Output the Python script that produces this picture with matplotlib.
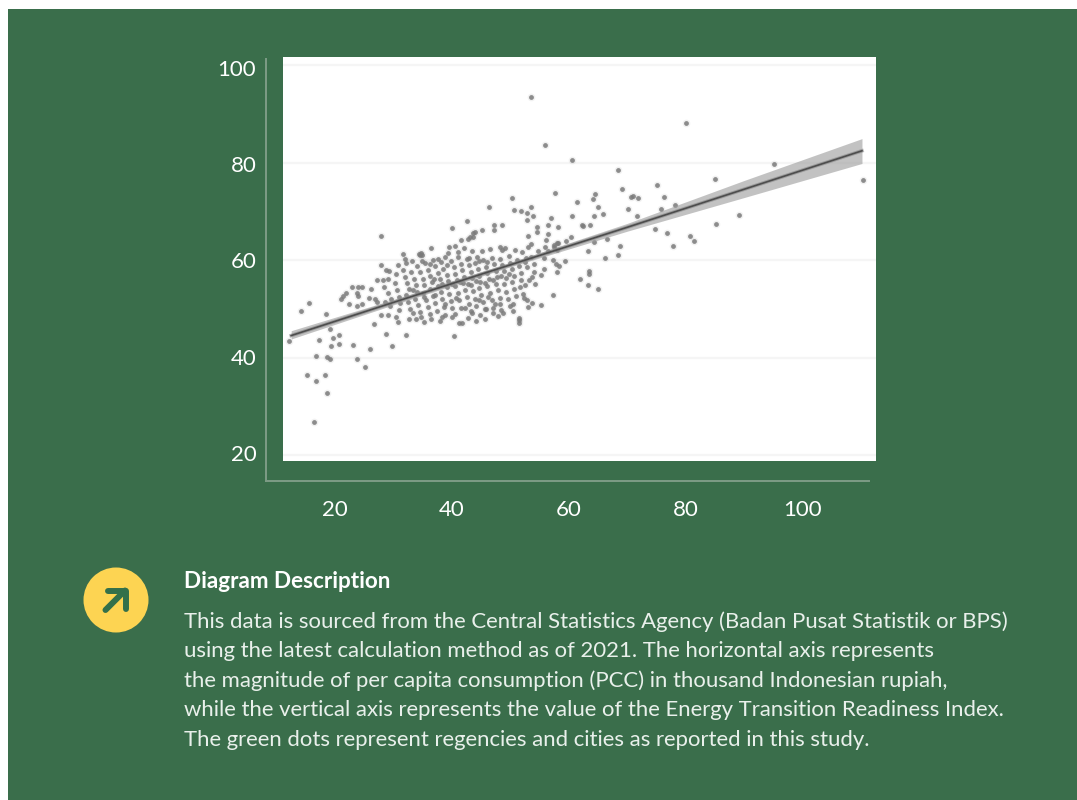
"""Energy Transition Readiness Index vs per capita consumption, with description panel."""

import numpy as np
import matplotlib.pyplot as plt
from matplotlib.patches import Circle, Rectangle

W, H = 1077, 800

PANEL_GREEN = "#3a6e4b"
SPINE_GREEN = "#7d9c86"
ICON_YELLOW = "#fdd452"
ICON_GREEN = "#33704a"
BODY_TEXT = "#e9f0eb"

x_ticks = [20, 40, 60, 80, 100]
y_ticks = [20, 40, 60, 80, 100]

# points as (pcc, index)
low_points = [
    (15.6, 51.3), (14.1, 49.6), (18.5, 49.0), (19.1, 45.9), (17.2, 43.7), (19.7, 44.0),
    (20.7, 44.8), (19.4, 42.4), (20.7, 42.9), (12.2, 43.5), (16.7, 40.5), (18.7, 40.3),
    (19.2, 39.7), (15.2, 36.5), (18.3, 36.6), (16.7, 35.2), (18.6, 32.8), (16.4, 26.9),
    (23.1, 42.7), (26.0, 41.8), (23.8, 39.7), (25.1, 38.1), (28.8, 44.9), (29.8, 42.4),
    (32.2, 44.7), (26.7, 47.0), (40.3, 44.5),
]
left_points = [
    (22.4, 51.1), (23.8, 50.7), (24.6, 51.0), (21.0, 52.2), (21.4, 52.7), (21.8, 53.3),
    (22.9, 54.5), (24.0, 54.5), (24.6, 54.5), (23.7, 53.4), (24.0, 52.7), (26.2, 54.2),
    (25.8, 52.4), (27.2, 55.9), (28.2, 56.0), (29.1, 56.3), (27.8, 59.1), (28.7, 58.0),
    (29.2, 57.9), (31.7, 61.4), (32.2, 59.5), (36.4, 62.5), (34.3, 61.3), (34.7, 61.6),
    (34.9, 61.1), (34.6, 61.1), (26.8, 52.2), (27.2, 51.5), (27.8, 48.8), (29.1, 48.8),
    (30.4, 48.5), (30.8, 47.4), (32.7, 48.1), (33.9, 48.1), (35.3, 47.4), (36.4, 47.9),
    (27.8, 65.1), (28.4, 54.6), (29.0, 53.4), (29.6, 52.2), (29.4, 50.6), (28.6, 51.4),
    (30.2, 55.4), (30.6, 54.0), (30.9, 52.6), (31.2, 51.2), (31.0, 49.9), (30.4, 57.2),
]
dense_points = [
    (31.6, 58.0), (32.0, 56.7), (32.3, 55.4), (32.6, 54.2), (32.1, 52.9), (32.5, 51.4),
    (32.9, 50.1), (33.3, 49.2), (33.0, 57.6), (33.5, 56.2), (33.8, 55.0), (34.1, 53.6),
    (33.7, 52.2), (34.2, 50.8), (34.5, 49.5), (34.8, 48.5), (34.0, 58.8), (34.6, 57.7),
    (35.0, 56.3), (35.3, 54.9), (35.1, 53.3), (35.6, 51.9), (35.9, 50.4), (36.2, 49.0),
    (35.4, 59.4), (35.9, 58.1), (36.3, 56.8), (36.6, 55.5), (36.3, 54.2), (36.8, 52.7),
    (37.1, 51.2), (37.4, 49.7), (37.9, 47.6), (36.8, 60.2), (37.2, 58.8), (37.6, 57.5),
    (37.9, 56.2), (37.6, 54.8), (38.1, 53.5), (38.3, 52.0), (38.6, 50.5), (38.9, 48.9),
    (38.2, 59.6), (38.5, 58.3), (38.8, 60.8), (39.1, 57.1), (39.4, 55.8), (39.1, 54.5),
    (39.5, 53.2), (39.8, 51.7), (40.1, 50.2), (40.1, 48.5), (39.4, 61.5), (39.5, 62.8),
    (40.5, 63.0), (39.9, 59.9), (40.3, 58.6), (40.6, 57.3), (40.9, 56.0), (40.6, 54.7),
    (41.0, 53.4), (41.3, 51.9), (41.6, 50.3), (41.3, 47.1), (41.7, 47.1), (41.1, 60.7),
    (41.5, 59.3), (41.8, 58.0), (42.1, 56.7), (41.9, 55.3), (42.3, 54.0), (42.6, 52.6),
    (42.9, 51.0), (43.2, 49.6), (42.1, 62.5), (43.4, 62.0), (42.6, 60.3), (42.9, 59.0),
    (43.2, 57.7), (43.5, 56.4), (43.2, 55.0), (43.6, 53.7), (43.9, 52.2), (44.2, 50.7),
    (43.4, 49.2), (44.1, 47.6), (44.3, 60.8), (44.0, 59.4), (44.4, 58.2), (44.7, 56.9),
    (44.9, 55.6), (44.6, 54.3), (45.0, 53.0), (45.3, 51.5), (45.6, 50.0), (45.7, 47.9),
    (45.1, 61.9), (45.4, 60.0), (45.8, 58.7), (46.1, 57.4), (46.4, 56.1), (46.1, 54.8),
    (46.5, 53.4), (46.8, 51.9), (47.1, 50.3), (45.9, 50.0), (46.5, 62.3), (46.9, 60.6),
    (47.2, 59.2), (47.5, 57.9), (47.8, 56.6), (47.5, 55.2), (47.9, 53.9), (48.2, 52.4),
    (47.4, 51.1), (47.9, 48.6), (48.3, 62.8), (48.5, 62.2), (49.1, 62.5), (48.3, 60.4),
    (48.6, 59.1), (48.9, 57.8), (49.2, 56.5), (48.9, 55.1), (49.3, 53.6), (49.6, 52.1),
    (48.4, 49.8), (48.8, 49.2), (49.7, 60.9), (50.0, 59.5), (50.3, 58.2), (50.6, 56.9),
    (50.3, 55.5), (50.7, 54.2), (51.0, 52.7), (50.4, 51.1), (50.8, 62.2), (52.0, 61.8),
    (51.2, 60.2), (51.5, 58.8), (51.8, 57.5), (51.9, 56.0), (51.6, 54.6), (52.1, 53.2),
    (51.5, 48.3), (51.5, 47.8), (51.5, 47.2), (30.8, 59.1), (31.9, 60.3), (33.1, 59.9),
    (37.0, 56.1), (38.4, 55.2), (40.0, 55.1), (41.4, 55.6), (42.8, 55.2), (44.2, 55.8),
    (45.6, 55.4), (47.0, 56.0), (48.4, 56.9), (49.8, 57.3), (46.0, 59.6), (44.6, 59.9),
    (43.0, 60.6), (41.0, 61.7), (39.2, 59.0), (37.6, 60.3), (36.2, 59.2), (34.9, 59.9),
    (33.4, 54.0), (35.2, 52.5), (37.2, 53.0), (38.9, 51.1), (40.7, 52.3), (42.2, 50.2),
    (44.7, 51.9), (46.2, 52.5), (48.2, 51.0), (49.9, 50.6), (50.5, 49.7), (47.0, 49.2),
    (44.9, 48.9), (42.7, 48.3), (40.6, 49.1), (38.3, 48.5), (52.5, 59.7), (52.9, 58.6),
    (53.1, 62.8), (53.6, 63.4), (52.7, 60.6), (53.2, 56.0), (52.6, 54.9), (52.4, 52.4),
]
upper_points = [
    (40.1, 66.7), (42.6, 68.0), (46.4, 71.0), (50.3, 72.9), (57.7, 73.8), (50.7, 70.4),
    (51.9, 70.2), (53.5, 71.0), (52.9, 69.7), (53.9, 69.2), (52.9, 68.4), (61.5, 72.0),
    (64.5, 73.6), (64.2, 72.6), (65.0, 71.0), (60.6, 69.2), (64.4, 69.2), (56.9, 68.7),
    (56.4, 67.3), (58.2, 66.9), (56.4, 65.4), (54.6, 66.9), (54.6, 65.9), (62.2, 67.3),
    (62.5, 67.1), (63.7, 67.3), (53.1, 65.1), (48.5, 67.3), (47.2, 67.3), (47.2, 66.3),
    (45.1, 66.3), (44.0, 65.9), (43.7, 65.6), (43.1, 64.9), (42.8, 64.4), (43.7, 64.9),
    (41.6, 64.3), (53.5, 93.6), (56.0, 83.6), (60.5, 80.6), (80.0, 88.2), (68.5, 78.6),
    (95.2, 79.7), (110.4, 76.6), (85.1, 76.7), (75.2, 75.4), (69.2, 74.6), (76.3, 73.1),
    (71.0, 73.3), (70.6, 73.0), (71.8, 72.8), (70.2, 70.6), (75.8, 70.6), (78.2, 71.4),
    (65.9, 69.6), (71.7, 69.1), (89.2, 69.4), (85.2, 67.5), (74.7, 66.4), (76.8, 65.6),
    (80.7, 65.1), (81.5, 63.9), (77.9, 63.0),
]
right_points = [
    (60.4, 64.9), (59.6, 63.9), (58.0, 63.5), (57.4, 63.2), (56.5, 62.0), (58.0, 62.2),
    (63.3, 62.0), (64.3, 63.7), (59.4, 59.8), (57.3, 60.0), (57.8, 59.3), (58.4, 58.9),
    (58.0, 57.7), (63.5, 57.9), (63.5, 57.2), (62.0, 56.2), (63.3, 55.0), (65.0, 54.1),
    (57.3, 52.9), (54.2, 55.1), (55.2, 57.0), (55.7, 58.3), (54.1, 59.3), (54.0, 57.7),
    (55.2, 50.8), (53.1, 50.4), (52.9, 51.8), (53.7, 51.3), (66.5, 64.4), (68.7, 63.0),
    (68.5, 61.1), (66.2, 60.6), (55.7, 60.5), (53.7, 56.7), (57.4, 62.8), (58.2, 63.5),
    (53.6, 60.7), (54.8, 61.9), (55.9, 62.8), (56.1, 64.3),
]

# regression line and confidence band, read at a few positions along x
fit_x = [12.5, 30, 50, 70, 90, 110.2]
fit_y = [44.6, 51.4, 59.1, 66.8, 74.6, 82.5]
fit_low = [43.9, 50.9, 58.7, 66.0, 72.9, 79.9]
fit_high = [45.6, 52.0, 59.6, 67.6, 76.4, 85.0]

title_text = "Diagram Description"
body_lines = [
    "This data is sourced from the Central Statistics Agency (Badan Pusat Statistik or BPS)",
    "using the latest calculation method as of 2021. The horizontal axis represents",
    "the magnitude of per capita consumption (PCC) in thousand Indonesian rupiah,",
    "while the vertical axis represents the value of the Energy Transition Readiness Index.",
    "The green dots represent regencies and cities as reported in this study.",
]
body_y = [622, 651, 681, 710, 740]

plt.rcParams["font.family"] = ["Lato", "DejaVu Sans"]


def px_axes(fig, x0, y0, x1, y1):
    """Axes placed by pixel box, y counted from the top."""
    return fig.add_axes([x0 / W, 1 - y1 / H, (x1 - x0) / W, (y1 - y0) / H])


fig = plt.figure(figsize=(W / 100, H / 100), dpi=100, facecolor="white")

# page layer in pixel coordinates
page = px_axes(fig, 0, 0, W, H)
page.set_xlim(0, W)
page.set_ylim(H, 0)
page.axis("off")
page.add_patch(Rectangle((8, 9), W - 8, H - 9, color=PANEL_GREEN, lw=0))

# icon
page.add_patch(Circle((116, 600), 32.5, color=ICON_YELLOW, lw=0))
page.plot([105.5, 125], [610, 590.5], color=ICON_GREEN, lw=4.3, solid_capstyle="round")
page.plot([107.5, 126, 126], [590.5, 590.5, 609], color=ICON_GREEN, lw=4.3,
          solid_capstyle="round", solid_joinstyle="round")

# description
page.text(184, 581, title_text, color="white", fontsize=16.2, fontweight="bold",
          va="center", ha="left")
for line, y in zip(body_lines, body_y):
    page.text(184, y, line, color=BODY_TEXT, fontsize=15.97, va="center", ha="left")

# axis frame with its own tick scale
frame = px_axes(fig, 266, 59, 869, 481)
frame.patch.set_visible(False)
frame.set_xlim(8.18, 111.44)
frame.set_ylim(14.18, 101.87)
frame.set_xticks(x_ticks)
frame.set_yticks(y_ticks)
frame.tick_params(axis="both", length=0, labelcolor="white", labelsize=16)
frame.tick_params(axis="x", pad=14)
frame.tick_params(axis="y", pad=7)
for side in ["top", "right"]:
    frame.spines[side].set_visible(False)
for side in ["left", "bottom"]:
    frame.spines[side].set_color(SPINE_GREEN)
    frame.spines[side].set_linewidth(1.4)

# white image area with the data
ax = px_axes(fig, 283, 57, 876, 461)
ax.set_facecolor("white")
ax.set_xlim(11.1, 112.6)
ax.set_ylim(18.87, 101.74)
ax.set_xticks([])
ax.set_yticks([])
for spine in ax.spines.values():
    spine.set_visible(False)
for tick in y_ticks:
    ax.axhline(tick, color="#f5f5f5", lw=1.6, zorder=1)

points = np.array(low_points + left_points + dense_points + upper_points + right_points)
ax.scatter(points[:, 0], points[:, 1], s=30, color="#777777", alpha=0.10, lw=0, zorder=2)
ax.scatter(points[:, 0], points[:, 1], s=12, color="#7a7a7a", alpha=0.85, lw=0, zorder=3)

ax.fill_between(fit_x, fit_low, fit_high, color="#9a9a9a", alpha=0.6, lw=0, zorder=4)
ax.plot(fit_x, fit_y, color="#777777", lw=2.6, alpha=0.5, zorder=5)
ax.plot(fit_x, fit_y, color="#4d4d4d", lw=1.2, zorder=6)

fig.savefig("out.png", dpi=100)
plt.close(fig)
